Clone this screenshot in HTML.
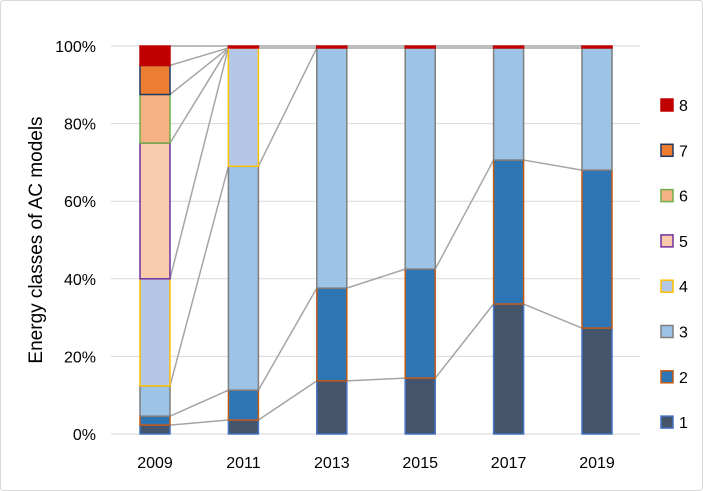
<!DOCTYPE html>
<html><head><meta charset="utf-8"><style>
body{margin:0;background:#fff;}
svg{display:block;font-family:"Liberation Sans",sans-serif;}
</style></head><body>
<svg id="chart" width="703" height="491">
<rect x="0.5" y="0.5" width="702" height="490" rx="3" fill="#fff" stroke="#d9d9d9"/>
<g id="grid"></g><g id="links"></g><g id="bars"></g><g id="axis"></g><g id="legend"></g>
<text x="42" y="240" transform="rotate(-90 42 240)" text-anchor="middle" font-size="19" fill="#000">Energy classes of AC models</text>
</svg>
<script>
const years=["2009","2011","2013","2015","2017","2019"];
const class1=[2.3,3.6,13.7,14.4,33.5,27.3];
const class2=[2.3,7.7,23.9,28.1,37.1,40.7];
const class3=[7.8,57.7,61.9,57.0,28.9,31.5];
const class4=[27.6,30.5,0,0,0,0];
const class5=[35,0,0,0,0,0];
const class6=[12.5,0,0,0,0,0];
const class7=[7.5,0,0,0,0,0];
const class8=[5,0.5,0.5,0.5,0.5,0.5];
const yTicks=[0,20,40,60,80,100];
const classNames=["1","2","3","4","5","6","7","8"];
const series=[class1,class2,class3,class4,class5,class6,class7,class8];
const fills=["#44546a","#2e75b6","#9dc3e6","#b4c7e7","#f8cbad","#f4b183","#ed7d31","#c00000"];
const strokes=["#4472c4","#c55a11","#7f7f7f","#ffc000","#7030a0","#70ad47","#203864","#c00000"];
const NS="http://www.w3.org/2000/svg";
const y0=434,y1=46,x0=111,x1=640,bw=30;
const yS=v=>y0-(y0-y1)*v/100;
const xS=i=>155+i*88.4;
function mk(t,a,p){const e=document.createElementNS(NS,t);for(const k in a)e.setAttribute(k,a[k]);p.appendChild(e);return e;}
const grid=document.getElementById('grid'),axis=document.getElementById('axis');
yTicks.forEach(t=>{
 const l=mk('line',{x1:x0,x2:x1,y1:yS(t),y2:yS(t),stroke:'#d9d9d9','stroke-width':1},grid);
 
 
 const tx=mk('text',{x:96,y:yS(t)+6,'text-anchor':'end','font-size':16,fill:'#000'},axis);
 tx.textContent=t+'%';
 
 
});
years.forEach((yr,i)=>{
 const tx=mk('text',{x:xS(i),y:468,'text-anchor':'middle','font-size':16,fill:'#000'},axis);
 tx.textContent=yr;
 
 
});
// cumulative
const cum=years.map((_,i)=>{let s=0;return series.map(ser=>{s+=ser[i];return s;});});
const links=document.getElementById('links'),bars=document.getElementById('bars');
for(let i=0;i<years.length-1;i++){
 for(let c=0;c<series.length;c++){
  if(series[c][i]<=0)continue;
  const l=mk('line',{x1:xS(i)+bw/2,y1:yS(cum[i][c]),x2:xS(i+1)-bw/2,y2:yS(cum[i+1][c]),stroke:'#a5a5a5','stroke-width':1.5},links);
  
  
 }
}
years.forEach((yr,i)=>{
 for(let c=0;c<series.length;c++){
  const v=series[c][i]; if(v<=0)continue;
  const top=yS(cum[i][c]),bot=yS(cum[i][c]-v);
  const r=mk('rect',{x:xS(i)-bw/2,y:top,width:bw,height:bot-top,fill:fills[c],stroke:strokes[c],'stroke-width':1.5},bars);
  
  
 }
});
const lg=document.getElementById('legend');
for(let c=series.length-1;c>=0;c--){
 const k=series.length-1-c, cy=105+k*45.3;
 const r=mk('rect',{x:661,y:cy-6,width:12,height:12,fill:fills[c],stroke:strokes[c],'stroke-width':1.5},lg);
 
 
 const t=mk('text',{x:679,y:cy+6,'font-size':16,fill:'#000'},lg);
 t.textContent=classNames[c];
 
 
}
</script>
</body></html>
